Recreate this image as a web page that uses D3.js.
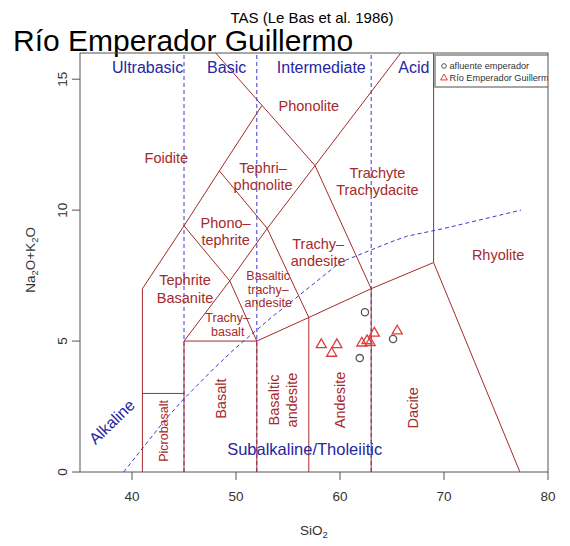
<!DOCTYPE html>
<html>
<head>
<meta charset="utf-8">
<script src="https://cdnjs.cloudflare.com/ajax/libs/d3/7.8.5/d3.min.js"></script>
<style>
body { margin: 0; background: #fff; }
text { font-family: "Liberation Sans", Arial, sans-serif; }
.field { fill: #a52a2a; text-anchor: middle; }
.blue { fill: #2626a0; text-anchor: middle; }
</style>
</head>
<body>
<svg id="canvas" width="570" height="546"></svg>
<script>
// --- data: SiO2 vs Na2O+K2O ---
const xTicks = [40, 50, 60, 70, 80],
	yTicks = [0, 5, 10, 15];

// field boundaries (Le Bas et al. 1986), [SiO2, alkali]
const fieldLines = [
	[[41, 0], [41, 7], [45, 9.4], [48.4, 11.5], [52.5, 14], [57.6, 11.7], [63, 7], [63, 0]],
	[[48.05, 16], [52.5, 14]],
	[[41, 3], [45, 3]],
	[[45, 0], [45, 5], [52, 5], [52, 0]],
	[[45, 5], [49.4, 7.3], [53, 9.3], [57.6, 11.7], [65.84, 16]],
	[[45, 9.4], [49.4, 7.3], [52, 5]],
	[[48.4, 11.5], [53, 9.3], [57, 5.9]],
	[[52, 5], [57, 5.9], [63, 7], [69, 8], [77.3, 0]],
	[[57, 0], [57, 5.9]],
	[[69, 8], [69, 16]]
];

// silica divisions
const silicaCuts = [45, 52, 63];
const silicaNames = ['Ultrabasic', 'Basic', 'Intermediate', 'Acid'],
	silicaNameX = [41.5, 49.1, 58.2, 67.1];

// Irvine & Baragar (1971) alkaline / subalkaline divide
const alkDivide = [[39.2, 0], [40, 0.4], [43.2, 2], [45, 2.8], [48, 4], [50, 4.75], [53.7, 6],
	[55, 6.4], [60, 8], [65, 8.8], [66.4, 9], [70, 9.3], [77.4, 10]];

const fieldNames = [
	{ t: ['Phonolite'], at: [57.0, 14.0] },
	{ t: ['Foidite'], at: [43.3, 12.0] },
	{ t: ['Tephri\u2013', 'phonolite'], at: [52.6, 11.3] },
	{ t: ['Trachyte', 'Trachydacite'], at: [63.6, 11.1] },
	{ t: ['Phono\u2013', 'tephrite'], at: [49.0, 9.2] },
	{ t: ['Trachy\u2013', 'andesite'], at: [57.9, 8.4] },
	{ t: ['Rhyolite'], at: [75.2, 8.3] },
	{ t: ['Tephrite', 'Basanite'], at: [45.1, 7.0] },
	{ t: ['Basaltic', 'trachy\u2013', 'andesite'], at: [53.1, 6.97], small: true },
	{ t: ['Trachy\u2013', 'basalt'], at: [49.2, 5.63], small: true },
	{ t: ['Picrobasalt'], at: [43.0, 1.57], small: true, rot: true },
	{ t: ['Basalt'], at: [48.5, 2.8], rot: true },
	{ t: ['Basaltic', 'andesite'], at: [54.5, 2.75], rot: true },
	{ t: ['Andesite'], at: [60.0, 2.75], rot: true },
	{ t: ['Dacite'], at: [67.0, 2.45], rot: true }
];

// samples
const afluenteSiO2 = [62.4, 61.9, 65.1],
	afluenteAlk = [6.1, 4.35, 5.08];
const rioSiO2 = [58.2, 59.7, 59.2, 62.1, 62.6, 62.9, 63.3, 65.5],
	rioAlk = [4.9, 4.9, 4.57, 4.96, 5.05, 4.98, 5.34, 5.42];

const seriesNames = ['afluente emperador', 'R\u00edo Emperador Guillermo'];

// --- layout ---
const x = d3.scaleLinear().domain([35, 80]).range([80, 548]),
	y = d3.scaleLinear().domain([0, 16]).range([472, 53]);

const svg = d3.select('#canvas');
const line = d3.line().x(d => x(d[0])).y(d => y(d[1]));

svg.append('defs').append('clipPath').attr('id', 'clip')
	.append('rect')
	.attr('x', x(35)).attr('y', y(16))
	.attr('width', x(80) - x(35)).attr('height', y(0) - y(16));

svg.append('text')
	.attr('x', 312).attr('y', 23)
	.attr('text-anchor', 'middle')
	.attr('font-size', 15)
	.text('TAS (Le Bas et al. 1986)');

svg.append('text')
	.attr('x', 13).attr('y', 51)
	.attr('font-size', 30)
	.text('R\u00edo Emperador Guillermo');

const plot = svg.append('g').attr('clip-path', 'url(#clip)');

// silica dashed lines
plot.selectAll('line.cut').data(silicaCuts).enter().append('line')
	.attr('x1', d => x(d)).attr('x2', d => x(d))
	.attr('y1', y(0)).attr('y2', y(16))
	.attr('stroke', '#3a3ad0')
	.attr('stroke-dasharray', '4,3');

plot.append('path')
	.attr('d', line(alkDivide))
	.attr('fill', 'none')
	.attr('stroke', '#3a3ad0')
	.attr('stroke-dasharray', '4,3');

plot.selectAll('path.field').data(fieldLines).enter().append('path')
	.attr('d', line)
	.attr('fill', 'none')
	.attr('stroke', '#a52a2a')
	.attr('stroke-width', 1);

// labels
plot.selectAll('text.silica').data(silicaNames).enter().append('text')
	.attr('class', 'blue')
	.attr('x', (d, i) => x(silicaNameX[i]))
	.attr('y', y(15.45) + 6)
	.attr('font-size', 16)
	.text(d => d);

fieldNames.forEach(f => {
	const fs = f.small ? 12.5 : 14.5,
		lh = f.small ? 13.5 : 17.5,
		cx = x(f.at[0]), cy = y(f.at[1]);
	const g = plot.append('g')
		.attr('transform', `translate(${cx},${cy})` + (f.rot ? ' rotate(-90)' : ''));
	f.t.forEach((s, i) => {
		g.append('text')
			.attr('class', 'field')
			.attr('font-size', fs)
			.attr('x', 0)
			.attr('y', (i - (f.t.length - 1) / 2) * lh + fs * 0.36)
			.text(s);
	});
});

plot.append('text')
	.attr('class', 'blue')
	.attr('font-size', 16)
	.attr('transform', `translate(${x(38.1)},${y(1.9)}) rotate(-44)`)
	.attr('dy', 5)
	.text('Alkaline');

plot.append('text')
	.attr('class', 'blue')
	.attr('font-size', 16.5)
	.attr('x', x(56.6)).attr('y', y(0.65))
	.text('Subalkaline/Tholeiitic');

// points
plot.selectAll('circle.afl').data(afluenteSiO2).enter().append('circle')
	.attr('cx', d => x(d))
	.attr('cy', (d, i) => y(afluenteAlk[i]))
	.attr('r', 3.6)
	.attr('fill', 'none')
	.attr('stroke', '#555')
	.attr('stroke-width', 1.3);

const tri = d3.symbol().type(d3.symbolTriangle).size(44);
plot.selectAll('path.rio').data(rioSiO2).enter().append('path')
	.attr('d', tri)
	.attr('transform', (d, i) => `translate(${x(d)},${y(rioAlk[i]) + 1})`)
	.attr('fill', 'none')
	.attr('stroke', '#e03c3c')
	.attr('stroke-width', 1.3);

// legend
const lg = plot.append('g').attr('transform', 'translate(435,55)');
lg.append('rect')
	.attr('width', 114).attr('height', 32)
	.attr('fill', '#fff')
	.attr('stroke', '#888')
	.attr('stroke-width', 1.5);
lg.append('circle')
	.attr('cx', 9).attr('cy', 11).attr('r', 2.3)
	.attr('fill', 'none').attr('stroke', '#555');
lg.append('path')
	.attr('d', d3.symbol().type(d3.symbolTriangle).size(20))
	.attr('transform', 'translate(9,23)')
	.attr('fill', 'none').attr('stroke', '#e03c3c');
lg.selectAll('text').data(seriesNames).enter().append('text')
	.attr('x', 14.5)
	.attr('y', (d, i) => 14 + i * 11.5)
	.attr('font-size', 9.2)
	.attr('fill', '#333')
	.text(d => d);

// frame + axes
svg.append('rect')
	.attr('x', x(35)).attr('y', y(16))
	.attr('width', x(80) - x(35)).attr('height', y(0) - y(16))
	.attr('fill', 'none')
	.attr('stroke', '#555');

const ax = svg.append('g').attr('stroke', '#555');
ax.selectAll('line.xt').data(xTicks).enter().append('line')
	.attr('x1', d => x(d)).attr('x2', d => x(d))
	.attr('y1', y(0)).attr('y2', y(0) + 8);
ax.selectAll('line.yt').data(yTicks).enter().append('line')
	.attr('y1', d => y(d)).attr('y2', d => y(d))
	.attr('x1', x(35)).attr('x2', x(35) - 8);

svg.selectAll('text.xl').data(xTicks).enter().append('text')
	.attr('x', d => x(d)).attr('y', 501)
	.attr('text-anchor', 'middle')
	.attr('font-size', 13.5)
	.attr('fill', '#333')
	.text(d => d);
svg.selectAll('text.yl').data(yTicks).enter().append('text')
	.attr('transform', d => `translate(67,${y(d)}) rotate(-90)`)
	.attr('text-anchor', 'middle')
	.attr('font-size', 13.5)
	.attr('fill', '#333')
	.text(d => d);

const xlab = svg.append('text')
	.attr('x', 314).attr('y', 535)
	.attr('text-anchor', 'middle')
	.attr('font-size', 13.5)
	.attr('fill', '#333');
xlab.append('tspan').text('SiO');
xlab.append('tspan').attr('font-size', 9.5).attr('dy', 3).text('2');

const ylab = svg.append('text')
	.attr('transform', `translate(35,${y(8.1)}) rotate(-90)`)
	.attr('text-anchor', 'middle')
	.attr('font-size', 13.5)
	.attr('fill', '#333');
ylab.append('tspan').text('Na');
ylab.append('tspan').attr('font-size', 9.5).attr('dy', 3).text('2');
ylab.append('tspan').attr('dy', -3).text('O+K');
ylab.append('tspan').attr('font-size', 9.5).attr('dy', 3).text('2');
ylab.append('tspan').attr('dy', -3).text('O');
</script>
</body>
</html>
